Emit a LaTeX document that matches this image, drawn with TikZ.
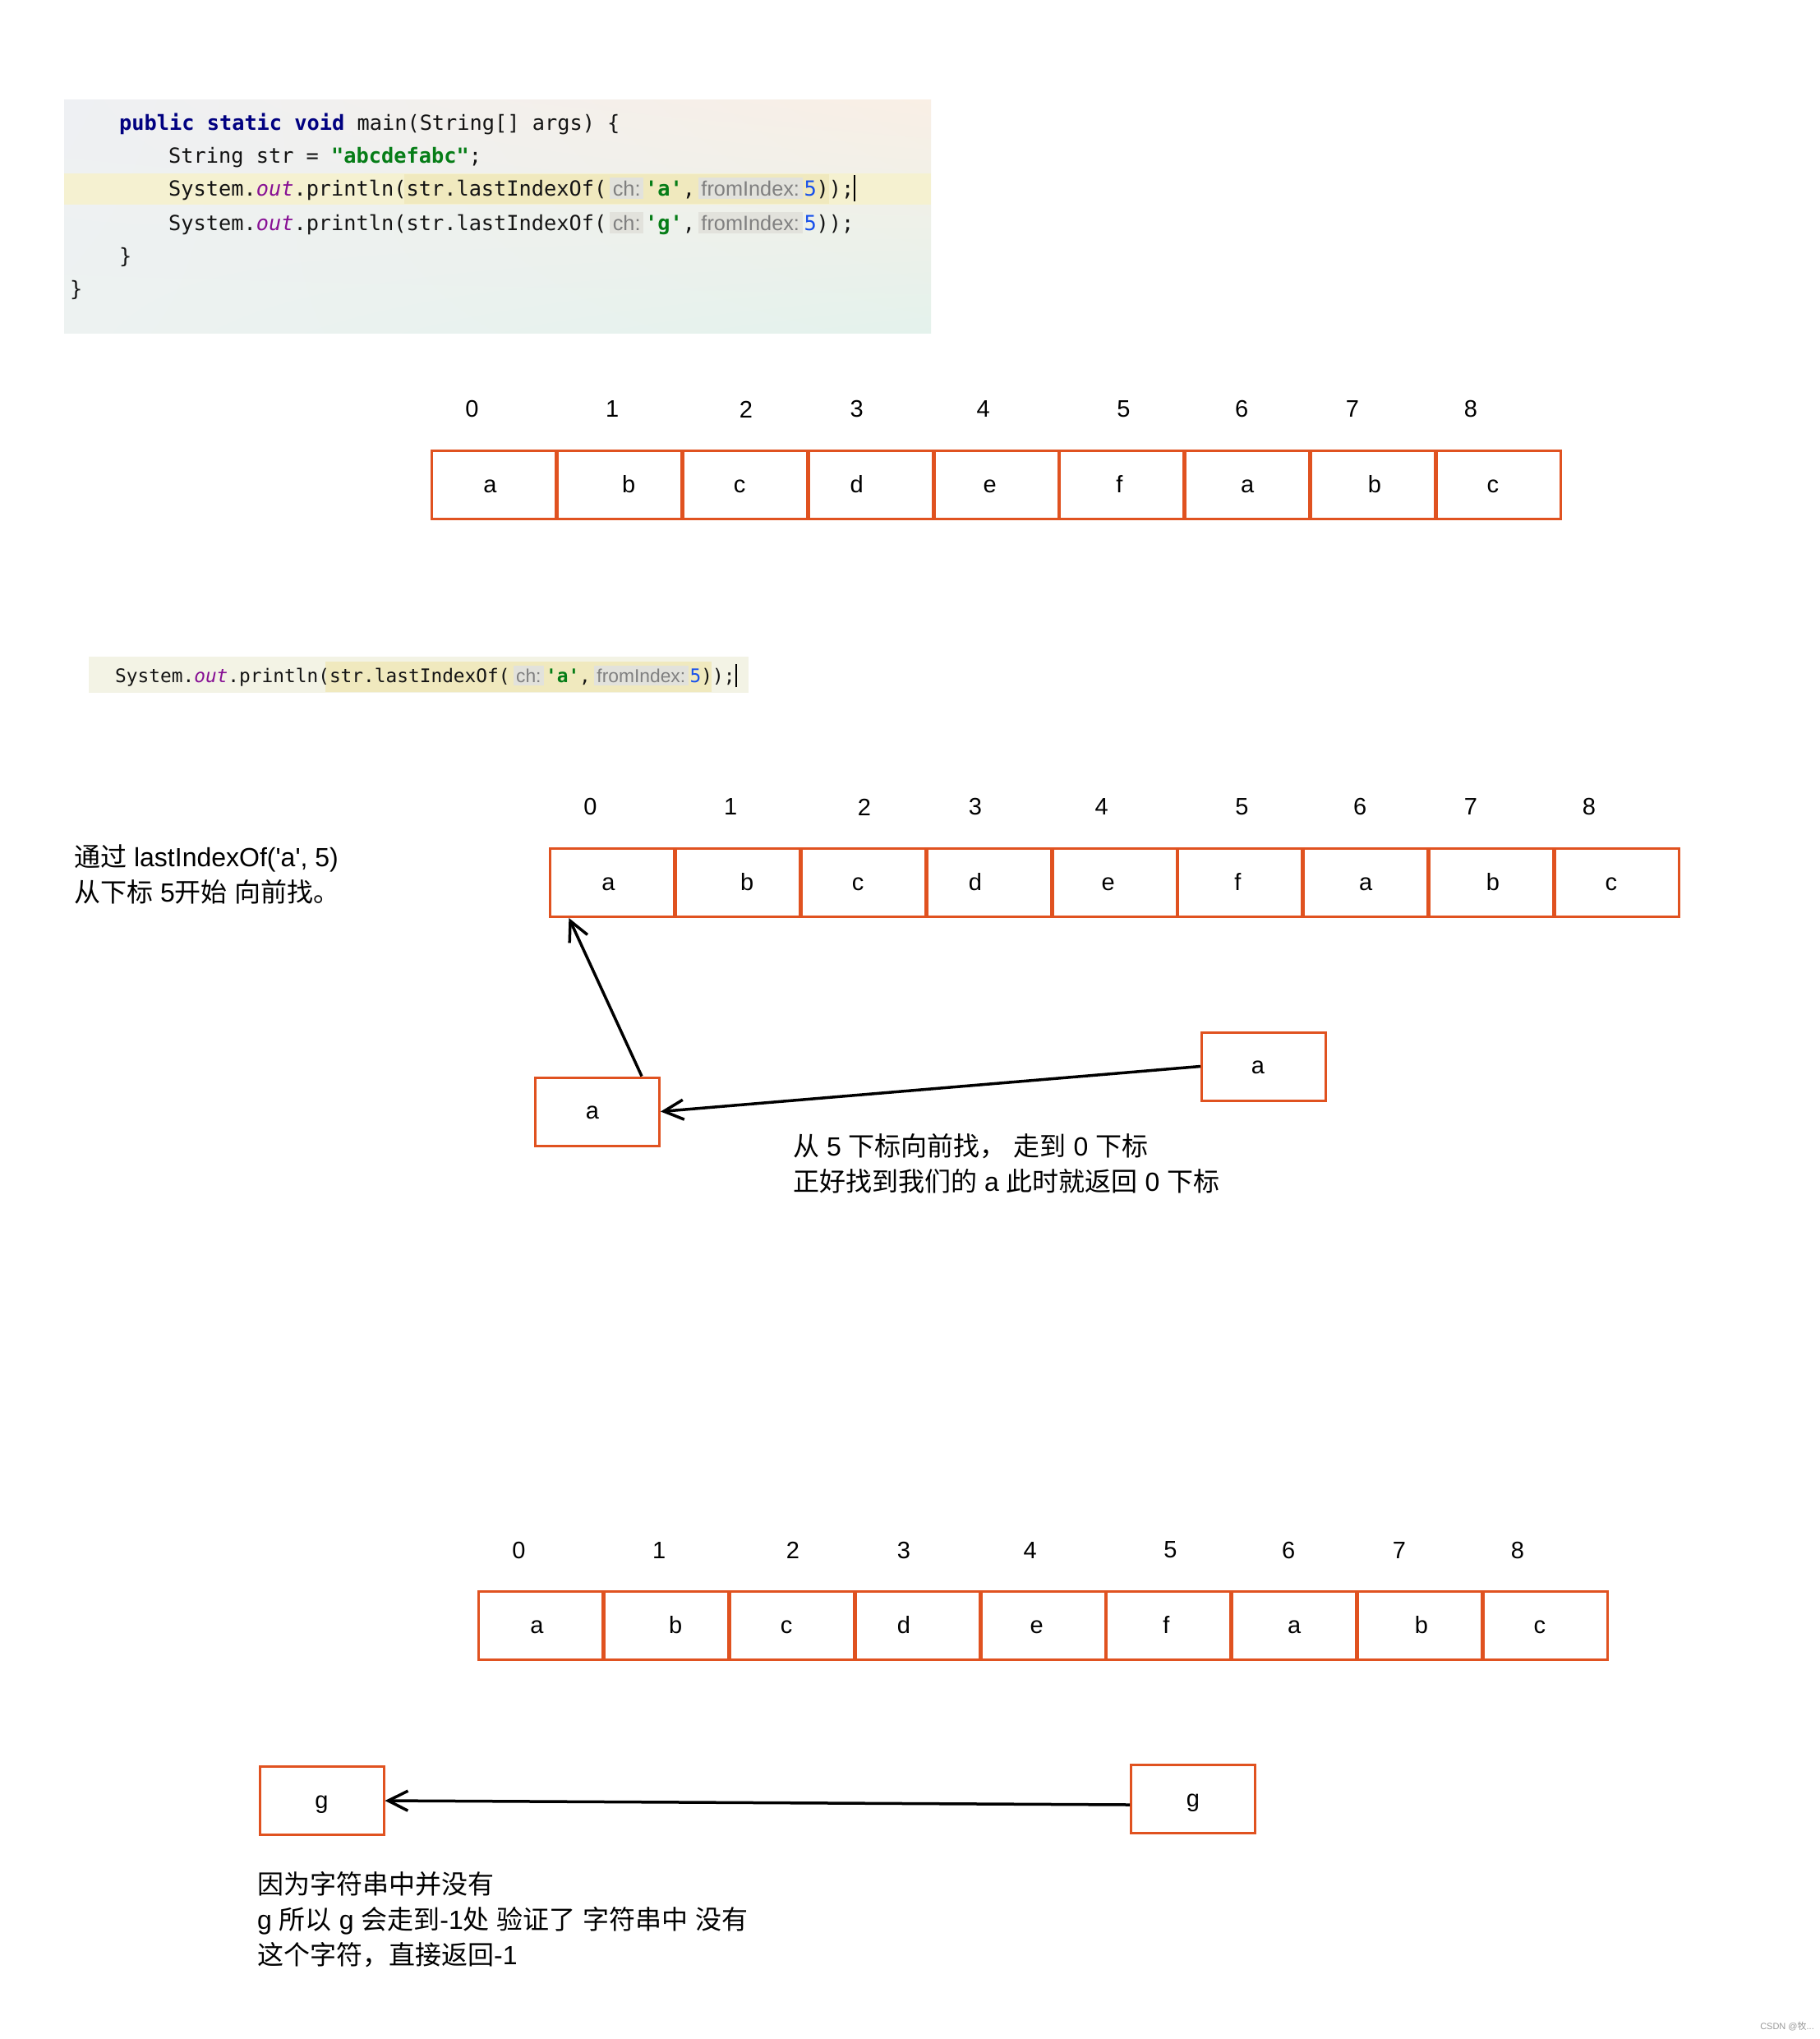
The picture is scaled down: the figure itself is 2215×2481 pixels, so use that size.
\documentclass[tikz,border=0pt]{standalone}
\usepackage{fontspec}
\setmainfont{Liberation Sans}[Ligatures=TeXOff]
\newfontfamily\cjk{Noto Sans CJK SC}
\newfontfamily\codefont{DejaVu Sans Mono}[Ligatures=TeXOff]
\newfontfamily\hintfont{Liberation Sans}[Ligatures=TeXOff]
\usetikzlibrary{arrows.meta,calc,shadings}

\definecolor{boxc}{RGB}{224,82,32}
\definecolor{kwc}{RGB}{0,0,128}
\definecolor{strc}{RGB}{6,125,23}
\definecolor{purp}{RGB}{135,16,148}
\definecolor{numc}{RGB}{23,80,235}
\definecolor{hintfg}{RGB}{128,128,128}
\definecolor{hintbg}{RGB}{226,226,220}
\definecolor{codec}{RGB}{20,20,20}
\definecolor{bandc}{RGB}{246,242,206}
\definecolor{bandd}{RGB}{240,233,190}
\definecolor{snipbg}{RGB}{243,243,229}
\definecolor{bgUL}{RGB}{238,240,243}
\definecolor{bgUR}{RGB}{249,239,229}
\definecolor{bgLL}{RGB}{237,242,241}
\definecolor{bgLR}{RGB}{228,242,236}

\newcommand\hint[1]{\kern4pt{\setlength{\fboxsep}{3.5pt}\colorbox{hintbg}{\hintfont\color{hintfg}#1}}\kern2pt}
\newcommand\curs{{\color{black}\rule[-0.28em]{2pt}{1.25em}}}

\newcommand\strarray[3]{%
  \foreach \cellchar/\letdx/\idxdx [count=\i from 0] in {a/-5/-27,b/11/-9,c/-7/1,d/-17/-17,e/-8/-16,f/-3/2,a/0/-7,b/2/-25,c/-7/-34}{%
    \node[cell, label={[lett, xshift=\letdx pt]center:\cellchar}] (#1b\i) at ({#2+76.4+152.8*\i}, {#3+43}) {};
    \node[idx] (#1i\i) at ($(#1b\i.north)+(\idxdx,-49)$) {\i};
  }%
}

\begin{document}
\begin{tikzpicture}[x=1pt,y=-1pt,
  cell/.style={draw=boxc, line width=3pt, minimum width=151pt, minimum height=83pt, inner sep=0pt, text height=18pt, text depth=0pt, font=\fontsize{29}{32}\selectfont},
  lett/.style={font=\fontsize{29}{32}\selectfont, inner sep=0pt, text height=18pt, text depth=0pt},
  idx/.style={font=\fontsize{29}{32}\selectfont, inner sep=0pt},
  arr/.style={line width=3.5pt, -{Straight Barb[length=24pt,width=24pt]}},
  code/.style={font={\codefont\fontsize{25.3}{30}\selectfont}, text=codec, inner sep=0pt, anchor=base west},
  codeb/.style={font={\codefont\fontsize{22.8}{27}\selectfont}, text=codec, inner sep=0pt, anchor=base west},
  txt/.style={font={\fontsize{32}{43}\selectfont}, align=left, anchor=north west, inner sep=0pt}
]
\fill[white] (0,0) rectangle (2215,2481);
\useasboundingbox (0,0) rectangle (2215,2481);

% ---- code screenshot 1
\shade[upper left=bgUL, upper right=bgUR, lower left=bgLL, lower right=bgLR] (78,121) rectangle (1133,405);
\fill[bandc, opacity=0.9] (78,211) rectangle (1133,249);
\fill[bandd] (492,212) rectangle (1009,248);

\node[code] (c1) at (145,158) {{\bfseries\color{kwc}public static void} main(String[] args) \{};
\node[code] (c2) at (205,198) {String str = {\bfseries\color{strc}"abcdefabc"};};
\node[code] (c3) at (205,238) {System.{\itshape\color{purp}out}.println(str.lastIndexOf(\hint{ch:}{\bfseries\color{strc}'a'},\hint{fromIndex:}{\color{numc}5}));\curs};
\node[code] (c4) at (205,280) {System.{\itshape\color{purp}out}.println(str.lastIndexOf(\hint{ch:}{\bfseries\color{strc}'g'},\hint{fromIndex:}{\color{numc}5}));};
\node[code] (c5) at (145,320) {\}};
\node[code] (c6) at (85,360) {\}};

% ---- code screenshot 2
\fill[snipbg] (108,799) rectangle (911,843);
\fill[bandd] (396,805) rectangle (866,842);
\node[codeb] (s2) at (140,830) {System.{\itshape\color{purp}out}.println(str.lastIndexOf(\hint{ch:}{\bfseries\color{strc}'a'},\hint{fromIndex:}{\color{numc}5}));\curs};

% ---- arrays
\strarray{A}{525}{547}
\strarray{B}{669}{1031}
\strarray{C}{582}{1935}

% ---- step boxes
\node[cell] (ra) at (1538,1297.5) {\hspace*{-14pt}a};
\node[cell] (la) at (727,1352.5) {\hspace*{-12pt}a};
\node[cell] (lg) at (391.5,2191) {g};
\node[cell] (rg) at (1452,2189) {g};

\draw[arr] (ra.west) -- (la.east);
\draw[arr] ($(la.north east)+(-23,0)$) -- ($(Bb0.south west)+(24,0)$);
\draw[arr] ($(rg.west)+(0,7)$) -- (lg.east);

% ---- texts
\node[txt] (t1) at (90,1028) {{\cjk 通过} lastIndexOf('a', 5)\\{\cjk 从下标} 5{\cjk 开始} {\cjk 向前找。}};
\node[txt] (t2) at (965,1379) {{\cjk 从} 5 {\cjk 下标向前找，} {\cjk 走到} 0 {\cjk 下标}\\{\cjk 正好找到我们的} a {\cjk 此时就返回} 0 {\cjk 下标}};
\node[txt] (t3) at (313,2277) {{\cjk 因为字符串中并没有}\\g {\cjk 所以} g {\cjk 会走到}-1{\cjk 处} {\cjk 验证了} {\cjk 字符串中} {\cjk 没有}\\{\cjk 这个字符，直接返回}-1};

\node[font=\fontsize{11}{13}\selectfont, text=gray!80, anchor=east, inner sep=0pt] (wm) at (2208,2466) {CSDN @{\cjk 牧}...};
\end{tikzpicture}
\end{document}
